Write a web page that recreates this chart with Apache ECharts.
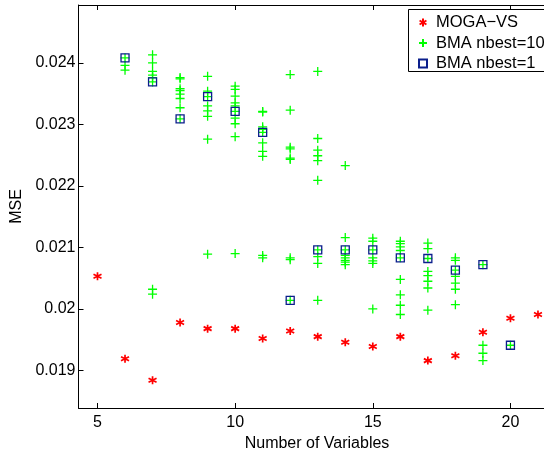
<!DOCTYPE html>
<html>
<head>
<meta charset="utf-8">
<script src="https://cdn.jsdelivr.net/npm/echarts@6/dist/echarts.min.js"></script>
<style>html,body{margin:0;padding:0;background:#fff;}#c{width:544px;height:450px;}</style>
</head>
<body>
<div id="c"></div>
<script>
// ---- data ----
const xTicks = [5, 10, 15, 20];
const yTicks = [0.019, 0.020, 0.021, 0.022, 0.023, 0.024];
const yTickLabels = ['0.019', '0.02', '0.021', '0.022', '0.023', '0.024'];

const mogaX = [5, 6, 7, 8, 9, 10, 11, 12, 13, 14, 15, 16, 17, 18, 19, 20, 21];
const mogaY = [0.02053, 0.01919, 0.01884, 0.01978, 0.01968, 0.01968, 0.01952, 0.01964, 0.01955,
               0.01946, 0.01939, 0.01955, 0.01916, 0.01924, 0.01962, 0.01985, 0.01991];

const bma10X = [6, 7, 8, 9, 10, 11, 12, 13, 14, 15, 16, 17, 18, 19, 20];
const bma10Y = [
  [0.02408, 0.02396, 0.02388],
  [0.02413, 0.02400, 0.02386, 0.02380, 0.02376, 0.02369, 0.02032, 0.02024],
  [0.02376, 0.02374, 0.02358, 0.02355, 0.02349, 0.02342, 0.02327, 0.02309],
  [0.02378, 0.02354, 0.02345, 0.02330, 0.02322, 0.02313, 0.02276, 0.02089],
  [0.02362, 0.02357, 0.02346, 0.02335, 0.02330, 0.02321, 0.02310, 0.02301, 0.02280, 0.02090],
  [0.02321, 0.02320, 0.02296, 0.02292, 0.02287, 0.02270, 0.02256, 0.02248, 0.02087, 0.02083],
  [0.02381, 0.02323, 0.02263, 0.02260, 0.02245, 0.02243, 0.02083, 0.02080, 0.02014],
  [0.02386, 0.02277, 0.02258, 0.02249, 0.02241, 0.02209, 0.02096, 0.02085, 0.02074, 0.02014],
  [0.02233, 0.02116, 0.02096, 0.02087, 0.02083, 0.02079, 0.02076, 0.02072],
  [0.02115, 0.02110, 0.02096, 0.02083, 0.02078, 0.02074, 0.02000],
  [0.02110, 0.02106, 0.02101, 0.02095, 0.02083, 0.02048, 0.02023, 0.02006, 0.01991],
  [0.02107, 0.02098, 0.02082, 0.02061, 0.02054, 0.02045, 0.02034, 0.01998],
  [0.02083, 0.02079, 0.02063, 0.02053, 0.02042, 0.02032, 0.02007],
  [0.02072, 0.01941, 0.01928, 0.01916],
  [0.01941]
];

const bma1X = [6, 7, 8, 9, 10, 11, 12, 13, 14, 15, 16, 17, 18, 19, 20];
const bma1Y = [0.02408, 0.02369, 0.02309, 0.02345, 0.02321, 0.02287, 0.02014, 0.02096,
               0.02096, 0.02096, 0.02083, 0.02082, 0.02063, 0.02072, 0.01941];

const seriesNames = ['MOGA\u2212VS', 'BMA nbest=10', 'BMA nbest=1'];

// ---- build ----
const mogaData = mogaX.map((x, i) => [x, mogaY[i]]);
const bma10Data = [];
bma10X.forEach((x, i) => bma10Y[i].forEach(y => bma10Data.push([x, y])));
const bma1Data = bma1X.map((x, i) => [x, bma1Y[i]]);

const FONT = 'Liberation Sans, Arial, Helvetica, sans-serif';
const asterisk = 'path://M5,0L5,10M0.7,2.5L9.3,7.5M9.3,2.5L0.7,7.5';
const plus = 'path://M0,5L10,5M5,0L5,10';

function yLabel(v) {
  let best = 0;
  yTicks.forEach((t, i) => { if (Math.abs(t - v) < Math.abs(yTicks[best] - v)) best = i; });
  return yTickLabels[best];
}

const chart = echarts.init(document.getElementById('c'), null, {renderer: 'canvas'});
const axisCommon = {
  type: 'value',
  axisLine: {show: true, onZero: false, lineStyle: {color: '#000', width: 1}},
  splitLine: {show: false},
};
chart.setOption({
  animation: false,
  backgroundColor: '#fff',
  grid: {left: 78.5, top: 5, bottom: 42, width: 487, containLabel: false, outerBoundsMode: 'none'},
  graphic: [{
    type: 'rect', z: 3, silent: true,
    shape: {x: 408.5, y: 9.5, width: 150, height: 62},
    style: {fill: '#fff', stroke: '#000', lineWidth: 1}
  }],
  legend: {
    orient: 'vertical',
    left: 408, top: 9, z: 5,
    padding: [5, 0, 3, 10],
    itemWidth: 8, itemHeight: 8, itemGap: 3.5,
    textStyle: {fontFamily: FONT, fontSize: 16.5, color: '#000', padding: [0, 0, 0, 4], lineHeight: 16},
    data: seriesNames
  },
  xAxis: [
    Object.assign({}, axisCommon, {
      position: 'bottom', min: 4.31, max: 22,
      name: 'Number of Variables', nameLocation: 'middle', nameGap: 21,
      nameTextStyle: {fontFamily: FONT, fontSize: 16, color: '#000', padding: [0, 10, 0, 0]},
      axisTick: {show: true, inside: true, length: 5, customValues: xTicks, lineStyle: {color: '#000'}},
      axisLabel: {show: true, customValues: xTicks, margin: 7, fontFamily: FONT, fontSize: 16, color: '#000'}
    }),
    Object.assign({}, axisCommon, {
      position: 'top', min: 4.31, max: 22,
      axisTick: {show: true, inside: true, length: 5, customValues: xTicks, lineStyle: {color: '#000'}},
      axisLabel: {show: false}
    })
  ],
  yAxis: [
    Object.assign({}, axisCommon, {
      position: 'left', min: 0.01839, max: 0.02494,
      name: 'MSE', nameLocation: 'middle', nameGap: 44,
      nameTextStyle: {fontFamily: FONT, fontSize: 16, color: '#000'},
      axisTick: {show: true, inside: true, length: 5, customValues: yTicks, lineStyle: {color: '#000'}},
      axisLabel: {show: true, customValues: yTicks, margin: 3, fontFamily: FONT, fontSize: 16, color: '#000',
                  formatter: yLabel}
    }),
    Object.assign({}, axisCommon, {
      position: 'right', min: 0.01839, max: 0.02494,
      axisTick: {show: true, inside: true, length: 5, customValues: yTicks, lineStyle: {color: '#000'}},
      axisLabel: {show: false}
    })
  ],
  series: [
    {
      name: seriesNames[0], type: 'scatter', xAxisIndex: 0, yAxisIndex: 0,
      symbol: asterisk, symbolSize: 8,
      itemStyle: {color: 'rgba(0,0,0,0)', borderColor: '#ff0000', borderWidth: 1.7, opacity: 1},
      data: mogaData, z: 2
    },
    {
      name: seriesNames[1], type: 'scatter', xAxisIndex: 0, yAxisIndex: 0,
      symbol: plus, symbolSize: 9,
      itemStyle: {color: 'rgba(0,0,0,0)', borderColor: '#00ff00', borderWidth: 1.3, opacity: 1},
      data: bma10Data, z: 3
    },
    {
      name: seriesNames[2], type: 'scatter', xAxisIndex: 0, yAxisIndex: 0,
      symbol: 'rect', symbolSize: 8,
      itemStyle: {color: 'rgba(0,0,0,0)', borderColor: '#0b1f8c', borderWidth: 1.3, opacity: 1},
      data: bma1Data, z: 4
    }
  ]
});
</script>
</body>
</html>
